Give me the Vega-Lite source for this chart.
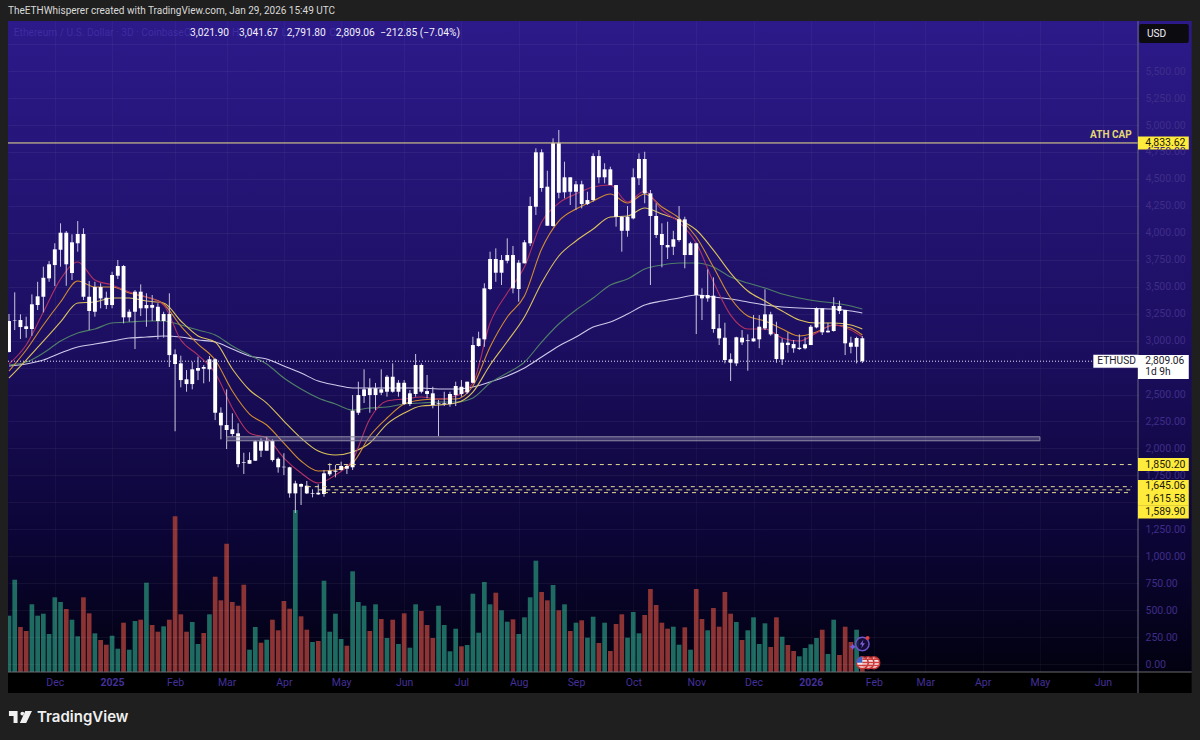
{
  "$schema": "https://vega.github.io/schema/vega-lite/v6.json",
  "autosize": "none",
  "width": 1130,
  "height": 651,
  "padding": {"left": 8, "top": 21, "right": 62, "bottom": 68},
  "background": "#1f1f1f",
  "title": {"text": "TheETHWhisperer created with TradingView.com, Jan 29, 2026 15:49 UTC", "anchor": "start", "frame": "group", "offset": 5, "font": "Roboto", "fontSize": 10, "fontWeight": "normal", "color": "#d9d9d9"},
  "config": {
    "font": "Roboto",
    "view": {"stroke": null, "fill": {"gradient": "linear", "x1": 0, "y1": 0, "x2": 0, "y2": 1, "stops": [{"offset": 0, "color": "#2c1a8a"}, {"offset": 0.5, "color": "#1c0e60"}, {"offset": 0.8, "color": "#0b0535"}, {"offset": 1, "color": "#020110"}]}}
  },
  "datasets": {
    "candles": [
      {"t":"2024-11-08","o":2894,"h":3247,"l":2890,"c":3182,"v":563},
      {"t":"2024-11-11","o":3187,"h":3448,"l":3098,"c":3191,"v":923},
      {"t":"2024-11-14","o":3191,"h":3244,"l":3015,"c":3126,"v":450},
      {"t":"2024-11-17","o":3133,"h":3222,"l":3027,"c":3108,"v":410},
      {"t":"2024-11-20","o":3108,"h":3429,"l":3045,"c":3337,"v":677},
      {"t":"2024-11-23","o":3330,"h":3546,"l":3284,"c":3411,"v":563},
      {"t":"2024-11-26","o":3407,"h":3686,"l":3262,"c":3583,"v":583},
      {"t":"2024-11-29","o":3578,"h":3738,"l":3546,"c":3708,"v":380},
      {"t":"2024-12-02","o":3701,"h":3903,"l":3506,"c":3847,"v":747},
      {"t":"2024-12-05","o":3843,"h":4088,"l":3686,"c":4001,"v":700},
      {"t":"2024-12-08","o":4001,"h":4017,"l":3509,"c":3708,"v":630},
      {"t":"2024-12-11","o":3627,"h":3986,"l":3562,"c":3912,"v":523},
      {"t":"2024-12-14","o":3903,"h":4109,"l":3825,"c":3989,"v":357},
      {"t":"2024-12-17","o":3989,"h":4042,"l":3377,"c":3407,"v":747},
      {"t":"2024-12-20","o":3407,"h":3553,"l":3098,"c":3275,"v":587},
      {"t":"2024-12-23","o":3268,"h":3546,"l":3222,"c":3497,"v":387},
      {"t":"2024-12-26","o":3497,"h":3532,"l":3300,"c":3392,"v":320},
      {"t":"2024-12-29","o":3398,"h":3454,"l":3293,"c":3330,"v":273},
      {"t":"2025-01-01","o":3330,"h":3639,"l":3300,"c":3609,"v":363},
      {"t":"2025-01-04","o":3602,"h":3748,"l":3571,"c":3692,"v":233},
      {"t":"2025-01-07","o":3692,"h":3701,"l":3160,"c":3216,"v":493},
      {"t":"2025-01-10","o":3216,"h":3290,"l":3175,"c":3268,"v":223},
      {"t":"2025-01-13","o":3268,"h":3469,"l":2922,"c":3454,"v":510},
      {"t":"2025-01-16","o":3454,"h":3522,"l":3228,"c":3300,"v":523},
      {"t":"2025-01-19","o":3300,"h":3439,"l":3129,"c":3330,"v":893},
      {"t":"2025-01-22","o":3330,"h":3423,"l":3182,"c":3305,"v":470},
      {"t":"2025-01-25","o":3314,"h":3346,"l":3012,"c":3182,"v":403},
      {"t":"2025-01-28","o":3182,"h":3268,"l":3027,"c":3247,"v":457},
      {"t":"2025-01-31","o":3247,"h":3439,"l":2755,"c":2866,"v":523},
      {"t":"2025-02-03","o":2873,"h":2919,"l":2159,"c":2783,"v":1557},
      {"t":"2025-02-06","o":2789,"h":2860,"l":2567,"c":2634,"v":577},
      {"t":"2025-02-09","o":2641,"h":2727,"l":2526,"c":2597,"v":403},
      {"t":"2025-02-12","o":2597,"h":2804,"l":2548,"c":2734,"v":500},
      {"t":"2025-02-15","o":2721,"h":2851,"l":2634,"c":2746,"v":280},
      {"t":"2025-02-18","o":2755,"h":2774,"l":2604,"c":2739,"v":390},
      {"t":"2025-02-21","o":2734,"h":2857,"l":2619,"c":2827,"v":577},
      {"t":"2025-02-24","o":2827,"h":2836,"l":2263,"c":2331,"v":953},
      {"t":"2025-02-27","o":2331,"h":2381,"l":2084,"c":2214,"v":717},
      {"t":"2025-03-02","o":2217,"h":2548,"l":1994,"c":2171,"v":1283},
      {"t":"2025-03-05","o":2177,"h":2326,"l":2109,"c":2134,"v":700},
      {"t":"2025-03-08","o":2140,"h":2233,"l":1825,"c":1855,"v":663},
      {"t":"2025-03-11","o":1871,"h":1960,"l":1763,"c":1865,"v":873},
      {"t":"2025-03-14","o":1858,"h":1964,"l":1858,"c":1892,"v":223},
      {"t":"2025-03-17","o":1886,"h":2078,"l":1883,"c":2066,"v":450},
      {"t":"2025-03-20","o":2066,"h":2094,"l":1920,"c":1979,"v":293},
      {"t":"2025-03-23","o":1979,"h":2109,"l":1979,"c":2071,"v":323},
      {"t":"2025-03-26","o":2071,"h":2084,"l":1877,"c":1892,"v":523},
      {"t":"2025-03-29","o":1904,"h":1917,"l":1775,"c":1825,"v":417},
      {"t":"2025-04-01","o":1830,"h":1955,"l":1753,"c":1825,"v":710},
      {"t":"2025-04-04","o":1825,"h":1830,"l":1543,"c":1583,"v":633},
      {"t":"2025-04-07","o":1583,"h":1700,"l":1401,"c":1676,"v":1620},
      {"t":"2025-04-10","o":1670,"h":1676,"l":1475,"c":1645,"v":557},
      {"t":"2025-04-13","o":1654,"h":1698,"l":1577,"c":1583,"v":423},
      {"t":"2025-04-16","o":1577,"h":1621,"l":1546,"c":1583,"v":300},
      {"t":"2025-04-19","o":1589,"h":1667,"l":1568,"c":1574,"v":310},
      {"t":"2025-04-22","o":1577,"h":1800,"l":1552,"c":1769,"v":913},
      {"t":"2025-04-25","o":1760,"h":1862,"l":1744,"c":1793,"v":403},
      {"t":"2025-04-28","o":1784,"h":1846,"l":1732,"c":1793,"v":583},
      {"t":"2025-05-01","o":1800,"h":1877,"l":1793,"c":1837,"v":330},
      {"t":"2025-05-04","o":1837,"h":1855,"l":1763,"c":1812,"v":263},
      {"t":"2025-05-07","o":1825,"h":2495,"l":1800,"c":2350,"v":1007},
      {"t":"2025-05-10","o":2331,"h":2619,"l":2310,"c":2495,"v":700},
      {"t":"2025-05-13","o":2486,"h":2734,"l":2421,"c":2548,"v":663},
      {"t":"2025-05-16","o":2558,"h":2650,"l":2331,"c":2495,"v":410},
      {"t":"2025-05-19","o":2495,"h":2607,"l":2356,"c":2558,"v":677},
      {"t":"2025-05-22","o":2548,"h":2734,"l":2495,"c":2517,"v":530},
      {"t":"2025-05-25","o":2526,"h":2681,"l":2480,"c":2665,"v":340},
      {"t":"2025-05-28","o":2665,"h":2789,"l":2517,"c":2526,"v":523},
      {"t":"2025-05-31","o":2526,"h":2634,"l":2480,"c":2609,"v":280},
      {"t":"2025-06-03","o":2609,"h":2634,"l":2403,"c":2412,"v":587},
      {"t":"2025-06-06","o":2412,"h":2542,"l":2393,"c":2511,"v":243},
      {"t":"2025-06-09","o":2505,"h":2876,"l":2480,"c":2774,"v":677},
      {"t":"2025-06-12","o":2774,"h":2789,"l":2511,"c":2526,"v":610},
      {"t":"2025-06-15","o":2532,"h":2681,"l":2465,"c":2505,"v":470},
      {"t":"2025-06-18","o":2511,"h":2572,"l":2372,"c":2403,"v":340},
      {"t":"2025-06-21","o":2412,"h":2449,"l":2115,"c":2418,"v":663},
      {"t":"2025-06-24","o":2412,"h":2526,"l":2393,"c":2418,"v":470},
      {"t":"2025-06-27","o":2412,"h":2526,"l":2387,"c":2505,"v":207},
      {"t":"2025-06-30","o":2495,"h":2619,"l":2393,"c":2579,"v":433},
      {"t":"2025-07-03","o":2572,"h":2634,"l":2480,"c":2505,"v":257},
      {"t":"2025-07-06","o":2520,"h":2619,"l":2505,"c":2619,"v":270},
      {"t":"2025-07-09","o":2609,"h":3036,"l":2604,"c":2959,"v":783},
      {"t":"2025-07-12","o":2950,"h":3083,"l":2943,"c":3021,"v":393},
      {"t":"2025-07-15","o":3012,"h":3532,"l":2943,"c":3485,"v":900},
      {"t":"2025-07-18","o":3479,"h":3825,"l":3469,"c":3757,"v":677},
      {"t":"2025-07-21","o":3757,"h":3856,"l":3546,"c":3630,"v":793},
      {"t":"2025-07-24","o":3630,"h":3794,"l":3516,"c":3748,"v":617},
      {"t":"2025-07-27","o":3741,"h":3949,"l":3717,"c":3794,"v":503},
      {"t":"2025-07-30","o":3794,"h":3878,"l":3439,"c":3485,"v":527},
      {"t":"2025-08-02","o":3479,"h":3748,"l":3361,"c":3723,"v":380},
      {"t":"2025-08-05","o":3717,"h":3933,"l":3717,"c":3912,"v":547},
      {"t":"2025-08-08","o":3903,"h":4335,"l":3878,"c":4249,"v":747},
      {"t":"2025-08-11","o":4242,"h":4784,"l":4165,"c":4747,"v":1113},
      {"t":"2025-08-14","o":4747,"h":4775,"l":4381,"c":4416,"v":800},
      {"t":"2025-08-17","o":4428,"h":4576,"l":4063,"c":4066,"v":717},
      {"t":"2025-08-20","o":4063,"h":4877,"l":4057,"c":4830,"v":870},
      {"t":"2025-08-23","o":4830,"h":4954,"l":4320,"c":4372,"v":617},
      {"t":"2025-08-26","o":4376,"h":4660,"l":4320,"c":4515,"v":677},
      {"t":"2025-08-29","o":4515,"h":4515,"l":4258,"c":4381,"v":410},
      {"t":"2025-09-01","o":4381,"h":4481,"l":4212,"c":4450,"v":493},
      {"t":"2025-09-04","o":4450,"h":4483,"l":4227,"c":4267,"v":517},
      {"t":"2025-09-07","o":4267,"h":4381,"l":4258,"c":4304,"v":343},
      {"t":"2025-09-10","o":4304,"h":4737,"l":4288,"c":4712,"v":553},
      {"t":"2025-09-13","o":4712,"h":4768,"l":4459,"c":4515,"v":290},
      {"t":"2025-09-16","o":4515,"h":4645,"l":4459,"c":4589,"v":493},
      {"t":"2025-09-19","o":4589,"h":4613,"l":4443,"c":4443,"v":210},
      {"t":"2025-09-22","o":4443,"h":4443,"l":4057,"c":4149,"v":480},
      {"t":"2025-09-25","o":4149,"h":4156,"l":3825,"c":4019,"v":577},
      {"t":"2025-09-28","o":4019,"h":4249,"l":3964,"c":4149,"v":343},
      {"t":"2025-10-01","o":4134,"h":4598,"l":4125,"c":4515,"v":600},
      {"t":"2025-10-04","o":4506,"h":4737,"l":4443,"c":4685,"v":387},
      {"t":"2025-10-07","o":4685,"h":4752,"l":4274,"c":4366,"v":570},
      {"t":"2025-10-10","o":4366,"h":4397,"l":3516,"c":4156,"v":830},
      {"t":"2025-10-13","o":4156,"h":4274,"l":3952,"c":3980,"v":670},
      {"t":"2025-10-16","o":3989,"h":4088,"l":3680,"c":3887,"v":493},
      {"t":"2025-10-19","o":3887,"h":4103,"l":3757,"c":3865,"v":433},
      {"t":"2025-10-22","o":3871,"h":4019,"l":3794,"c":3940,"v":453},
      {"t":"2025-10-25","o":3933,"h":4249,"l":3917,"c":4125,"v":273},
      {"t":"2025-10-28","o":4125,"h":4149,"l":3671,"c":3794,"v":447},
      {"t":"2025-10-31","o":3794,"h":3917,"l":3794,"c":3903,"v":223},
      {"t":"2025-11-03","o":3903,"h":3908,"l":3061,"c":3423,"v":830},
      {"t":"2025-11-06","o":3423,"h":3485,"l":3191,"c":3392,"v":530},
      {"t":"2025-11-09","o":3392,"h":3661,"l":3361,"c":3423,"v":417},
      {"t":"2025-11-12","o":3417,"h":3587,"l":3073,"c":3108,"v":640},
      {"t":"2025-11-15","o":3114,"h":3247,"l":2959,"c":3021,"v":453},
      {"t":"2025-11-18","o":3027,"h":3166,"l":2789,"c":2820,"v":800},
      {"t":"2025-11-21","o":2827,"h":2882,"l":2625,"c":2795,"v":583},
      {"t":"2025-11-24","o":2789,"h":3036,"l":2764,"c":3031,"v":500},
      {"t":"2025-11-27","o":3027,"h":3098,"l":2959,"c":2984,"v":320},
      {"t":"2025-11-30","o":2996,"h":3058,"l":2721,"c":3003,"v":417},
      {"t":"2025-12-03","o":2993,"h":3237,"l":2990,"c":3021,"v":547},
      {"t":"2025-12-06","o":3012,"h":3237,"l":2929,"c":3129,"v":280},
      {"t":"2025-12-09","o":3114,"h":3476,"l":3098,"c":3244,"v":487},
      {"t":"2025-12-12","o":3244,"h":3268,"l":3045,"c":3058,"v":250},
      {"t":"2025-12-15","o":3061,"h":3175,"l":2795,"c":2829,"v":547},
      {"t":"2025-12-18","o":2827,"h":3021,"l":2774,"c":2981,"v":353},
      {"t":"2025-12-21","o":2981,"h":3077,"l":2888,"c":2959,"v":270},
      {"t":"2025-12-24","o":2968,"h":3006,"l":2888,"c":2929,"v":210},
      {"t":"2025-12-27","o":2922,"h":3058,"l":2913,"c":2934,"v":157},
      {"t":"2025-12-30","o":2929,"h":3031,"l":2919,"c":2966,"v":240},
      {"t":"2026-01-02","o":2959,"h":3145,"l":2959,"c":3129,"v":277},
      {"t":"2026-01-05","o":3123,"h":3309,"l":3114,"c":3300,"v":340},
      {"t":"2026-01-08","o":3300,"h":3300,"l":3052,"c":3077,"v":423},
      {"t":"2026-01-11","o":3077,"h":3166,"l":3074,"c":3092,"v":180},
      {"t":"2026-01-14","o":3089,"h":3402,"l":3083,"c":3321,"v":523},
      {"t":"2026-01-17","o":3321,"h":3370,"l":3247,"c":3275,"v":170},
      {"t":"2026-01-20","o":3284,"h":3284,"l":2866,"c":2975,"v":453},
      {"t":"2026-01-23","o":2981,"h":3036,"l":2882,"c":2943,"v":300},
      {"t":"2026-01-26","o":2943,"h":3036,"l":2789,"c":3024,"v":423},
      {"t":"2026-01-29","o":3021.9,"h":3041.67,"l":2791.8,"c":2809.06,"v":90}
    ],
    "averages": [
      {"t":"2024-11-08","ma1":2783,"ma2":2718,"ma3":2653,"ma4":2774,"ma5":2764},
      {"t":"2024-11-17","ma1":2959,"ma2":2913,"ma3":2820,"ma4":2801,"ma5":2783},
      {"t":"2024-11-26","ma1":3265,"ma2":3145,"ma3":2996,"ma4":2885,"ma5":2820},
      {"t":"2024-12-05","ma1":3571,"ma2":3358,"ma3":3173,"ma4":2996,"ma5":2885},
      {"t":"2024-12-14","ma1":3729,"ma2":3553,"ma3":3349,"ma4":3071,"ma5":2941},
      {"t":"2024-12-23","ma1":3562,"ma2":3497,"ma3":3358,"ma4":3108,"ma5":2968},
      {"t":"2025-01-01","ma1":3516,"ma2":3497,"ma3":3395,"ma4":3163,"ma5":2996},
      {"t":"2025-01-10","ma1":3451,"ma2":3442,"ma3":3395,"ma4":3173,"ma5":3024},
      {"t":"2025-01-19","ma1":3404,"ma2":3404,"ma3":3367,"ma4":3182,"ma5":3033},
      {"t":"2025-01-28","ma1":3330,"ma2":3340,"ma3":3349,"ma4":3182,"ma5":3043},
      {"t":"2025-02-06","ma1":3006,"ma2":3135,"ma3":3182,"ma4":3145,"ma5":3033},
      {"t":"2025-02-15","ma1":2866,"ma2":2968,"ma3":3043,"ma4":3098,"ma5":3006},
      {"t":"2025-02-24","ma1":2699,"ma2":2820,"ma3":2987,"ma4":3052,"ma5":2987},
      {"t":"2025-03-05","ma1":2375,"ma2":2532,"ma3":2737,"ma4":2950,"ma5":2922},
      {"t":"2025-03-14","ma1":2143,"ma2":2319,"ma3":2542,"ma4":2866,"ma5":2857},
      {"t":"2025-03-23","ma1":2096,"ma2":2217,"ma3":2421,"ma4":2783,"ma5":2829},
      {"t":"2025-04-01","ma1":1911,"ma2":2050,"ma3":2254,"ma4":2653,"ma5":2764},
      {"t":"2025-04-10","ma1":1772,"ma2":1883,"ma3":2096,"ma4":2551,"ma5":2699},
      {"t":"2025-04-19","ma1":1679,"ma2":1790,"ma3":1976,"ma4":2468,"ma5":2625},
      {"t":"2025-04-28","ma1":1753,"ma2":1800,"ma3":1939,"ma4":2412,"ma5":2588},
      {"t":"2025-05-07","ma1":1892,"ma2":1865,"ma3":1967,"ma4":2356,"ma5":2560},
      {"t":"2025-05-16","ma1":2273,"ma2":2115,"ma3":2050,"ma4":2375,"ma5":2560},
      {"t":"2025-05-25","ma1":2440,"ma2":2282,"ma3":2226,"ma4":2384,"ma5":2560},
      {"t":"2025-06-03","ma1":2458,"ma2":2412,"ma3":2328,"ma4":2412,"ma5":2560},
      {"t":"2025-06-12","ma1":2477,"ma2":2449,"ma3":2393,"ma4":2421,"ma5":2560},
      {"t":"2025-06-21","ma1":2458,"ma2":2458,"ma3":2403,"ma4":2430,"ma5":2551},
      {"t":"2025-06-30","ma1":2486,"ma2":2458,"ma3":2421,"ma4":2430,"ma5":2551},
      {"t":"2025-07-09","ma1":2607,"ma2":2579,"ma3":2523,"ma4":2468,"ma5":2570},
      {"t":"2025-07-18","ma1":3163,"ma2":2941,"ma3":2774,"ma4":2607,"ma5":2616},
      {"t":"2025-07-27","ma1":3442,"ma2":3219,"ma3":2992,"ma4":2699,"ma5":2672},
      {"t":"2025-08-05","ma1":3683,"ma2":3414,"ma3":3219,"ma4":2801,"ma5":2746},
      {"t":"2025-08-14","ma1":4100,"ma2":3850,"ma3":3534,"ma4":2987,"ma5":2848},
      {"t":"2025-08-23","ma1":4276,"ma2":4109,"ma3":3785,"ma4":3154,"ma5":2950},
      {"t":"2025-09-01","ma1":4360,"ma2":4221,"ma3":3924,"ma4":3284,"ma5":3033},
      {"t":"2025-09-10","ma1":4425,"ma2":4295,"ma3":4035,"ma4":3395,"ma5":3126},
      {"t":"2025-09-19","ma1":4443,"ma2":4360,"ma3":4147,"ma4":3516,"ma5":3173},
      {"t":"2025-09-28","ma1":4286,"ma2":4276,"ma3":4156,"ma4":3571,"ma5":3247},
      {"t":"2025-10-07","ma1":4388,"ma2":4360,"ma3":4230,"ma4":3664,"ma5":3330},
      {"t":"2025-10-16","ma1":4212,"ma2":4239,"ma3":4174,"ma4":3701,"ma5":3367},
      {"t":"2025-10-25","ma1":4100,"ma2":4137,"ma3":4119,"ma4":3720,"ma5":3395},
      {"t":"2025-11-03","ma1":3905,"ma2":3961,"ma3":4026,"ma4":3720,"ma5":3423},
      {"t":"2025-11-12","ma1":3544,"ma2":3683,"ma3":3840,"ma4":3683,"ma5":3404},
      {"t":"2025-11-21","ma1":3237,"ma2":3395,"ma3":3627,"ma4":3590,"ma5":3386},
      {"t":"2025-11-30","ma1":3108,"ma2":3228,"ma3":3460,"ma4":3534,"ma5":3358},
      {"t":"2025-12-09","ma1":3108,"ma2":3182,"ma3":3367,"ma4":3488,"ma5":3330},
      {"t":"2025-12-18","ma1":3024,"ma2":3108,"ma3":3275,"ma4":3432,"ma5":3312},
      {"t":"2025-12-27","ma1":2996,"ma2":3043,"ma3":3191,"ma4":3395,"ma5":3302},
      {"t":"2026-01-05","ma1":3071,"ma2":3080,"ma3":3163,"ma4":3367,"ma5":3297},
      {"t":"2026-01-14","ma1":3145,"ma2":3145,"ma3":3163,"ma4":3349,"ma5":3293},
      {"t":"2026-01-23","ma1":3098,"ma2":3117,"ma3":3145,"ma4":3321,"ma5":3275},
      {"t":"2026-01-29","ma1":3033,"ma2":3052,"ma3":3108,"ma4":3293,"ma5":3256}
    ],
    "panes": [
      {"pane":"price scale","from":"2026-06-22T09:36:00Z","to":"2026-07-20T12:00:00Z","low":-74,"high":5965},
      {"pane":"time scale","from":"2024-11-07T11:30:00Z","to":"2026-07-20T12:00:00Z","low":-269,"high":-74}
    ],
    "levels": [
      {"name":"ATH CAP","price":4833.62,"start":"2024-11-07T11:30:00Z","end":"2026-06-22T09:36:00Z","style":"solid"},
      {"name":"current","price":2809.06,"start":"2024-11-07T11:30:00Z","end":"2026-05-30T00:00:00Z","style":"dotted"},
      {"name":"support 1","price":1850.2,"start":"2025-04-24T00:00:00Z","end":"2026-06-19T00:00:00Z","style":"dashed"},
      {"name":"support 2","price":1645.06,"start":"2025-04-13T00:00:00Z","end":"2026-06-19T00:00:00Z","style":"dashed"},
      {"name":"support 3","price":1615.58,"start":"2025-04-19T00:00:00Z","end":"2026-06-19T00:00:00Z","style":"dashed"},
      {"name":"support 4","price":1589.9,"start":"2025-04-22T00:00:00Z","end":"2026-06-19T00:00:00Z","style":"dashed"}
    ],
    "zones": [
      {"start":"2025-03-02","end":"2026-05-02","low":2071,"high":2108}
    ],
    "tags": [
      {"price":"4,833.62","at":4833.62},
      {"price":"1,850.20","at":1850.2},
      {"price":"1,645.06","at":1647},
      {"price":"1,615.58","at":1529},
      {"price":"1,589.90","at":1410}
    ],
    "notes": [
      {"kind":"faint","t":"2024-11-10T12:00:00Z","p":5853,"text":"Ethereum / U.S. Dollar · 3D · Coinbase"},
      {"kind":"faint","t":"2025-02-07T16:00:00Z","p":5853,"text":"O"},
      {"kind":"faint","t":"2025-03-04T19:00:00Z","p":5853,"text":"H"},
      {"kind":"faint","t":"2025-03-30T19:00:00Z","p":5853,"text":"L"},
      {"kind":"faint","t":"2025-04-24T17:00:00Z","p":5853,"text":"C"},
      {"kind":"ohlc","t":"2025-02-10T19:00:00Z","p":5853,"text":"3,021.90"},
      {"kind":"ohlc","t":"2025-03-08T12:00:00Z","p":5853,"text":"3,041.67"},
      {"kind":"ohlc","t":"2025-04-02T12:00:00Z","p":5853,"text":"2,791.80"},
      {"kind":"ohlc","t":"2025-04-28T04:00:00Z","p":5853,"text":"2,809.06"},
      {"kind":"ohlc","t":"2025-05-21T10:00:00Z","p":5853,"text":"−212.85 (−7.04%)"},
      {"kind":"ohlc","t":"2026-06-27T02:00:00Z","p":5849,"text":"USD"},
      {"kind":"dark","t":"2026-06-01T02:00:00Z","p":2809,"text":"ETHUSD"},
      {"kind":"dark","t":"2026-06-26T05:00:00Z","p":2809,"text":"2,809.06"},
      {"kind":"dark","t":"2026-06-26T05:00:00Z","p":2710,"text":"1d 9h"}
    ],
    "marker": [
      {"kind":"earnings","t":"2026-01-29","p":186},
      {"kind":"alert","t":"2026-01-31T18:00:00Z","p":241},
      {"kind":"spark","t":"2026-01-24","p":160}
    ],
    "flags": [
      {"t":"2026-02-04","p":12},
      {"t":"2026-02-01","p":12},
      {"t":"2026-01-29","p":12}
    ],
    "brand": [
      {"t":"2024-11-14","p":-492}
    ],
    "brandname": [
      {"t":"2024-11-22T16:00:00Z","p":-492,"text":"TradingView"}
    ]
  },
  "resolve": {"scale": {"y": "independent"}},
  "layer": [
    {
      "layer": [
        {
          "data": {"name": "candles"},
          "mark": {"type": "bar", "size": 4.7, "clip": true},
          "encoding": {
            "x": {
              "field": "t",
              "type": "temporal",
              "title": null,
              "scale": {"type": "utc", "domain": ["2024-11-07T11:30:00Z", "2026-06-22T09:36:00Z"], "nice": false, "padding": 0},
              "axis": {
                "values": ["2024-12-02T00:00:00Z", "2025-01-01T00:00:00Z", "2025-02-03T00:00:00Z", "2025-03-02T00:00:00Z", "2025-04-01T00:00:00Z", "2025-05-01T00:00:00Z", "2025-06-03T00:00:00Z", "2025-07-03T00:00:00Z", "2025-08-02T00:00:00Z", "2025-09-01T00:00:00Z", "2025-10-01T00:00:00Z", "2025-11-03T00:00:00Z", "2025-12-03T00:00:00Z", "2026-01-02T00:00:00Z", "2026-02-04T00:00:00Z", "2026-03-03T00:00:00Z", "2026-04-02T00:00:00Z", "2026-05-02T00:00:00Z", "2026-06-04T00:00:00Z"],
                "labelExpr": "utcmonth(datum.value)==0 ? utcFormat(datum.value,'%Y') : utcFormat(datum.value,'%b')",
                "labelFontWeight": {"condition": {"test": "utcmonth(datum.value)==0", "value": "bold"}, "value": "normal"},
                "labelColor": "#43309a",
                "labelFontSize": 10.5,
                "labelPadding": 5,
                "labelOverlap": false,
                "labelFlush": false,
                "ticks": false,
                "domain": false,
                "grid": true,
                "gridColor": "#ffffff",
                "gridOpacity": 0.035,
                "zindex": 1
              }
            },
            "y": {"field": "v", "type": "quantitative", "axis": null, "scale": {"domain": [0, 6510], "nice": false, "zero": false, "padding": 0}},
            "color": {"condition": {"test": "datum.c>=datum.o", "value": "#1e6b62"}, "value": "#8c3333"}
          }
        }
      ]
    },
    {
      "resolve": {"scale": {"color": "independent"}},
      "layer": [
        {
          "data": {"name": "panes"},
          "transform": [{"filter": "datum.pane=='price scale'"}],
          "mark": {"type": "rect", "color": {"gradient": "linear", "x1": 0, "y1": 0, "x2": 0, "y2": 1, "stops": [{"offset": 0, "color": "#2c1a8a"}, {"offset": 0.5, "color": "#1c0e60"}, {"offset": 0.8, "color": "#0b0535"}, {"offset": 1, "color": "#020110"}]}},
          "encoding": {
            "x": {"field": "from", "type": "temporal"},
            "x2": {"field": "to"},
            "y": {
              "field": "high",
              "type": "quantitative",
              "title": null,
              "scale": {"domain": [-74, 5965], "nice": false, "zero": false, "padding": 0},
              "axis": {
                "orient": "right",
                "values": [0, 250, 500, 750, 1000, 1250, 1500, 1750, 2000, 2250, 2500, 2750, 3000, 3250, 3500, 3750, 4000, 4250, 4500, 4750, 5000, 5250, 5500, 5750],
                "tickCount": 30,
                "format": ",.2f",
                "labelExpr": "indexof([1500,2750,5750],datum.value)>=0 ? '' : datum.label",
                "labelColor": "#3f2d88",
                "labelFontSize": 10.5,
                "labelPadding": 7,
                "labelAlign": "left",
                "labelOverlap": false,
                "labelFlush": false,
                "ticks": false,
                "domain": false,
                "grid": true,
                "gridColor": "#ffffff",
                "gridOpacity": 0.05,
                "zindex": 1
              }
            },
            "y2": {"field": "low"}
          }
        },
        {
          "data": {"name": "averages"},
          "transform": [{"fold": ["ma5", "ma4", "ma3", "ma2", "ma1"], "as": ["series", "price"]}],
          "mark": {"type": "line", "interpolate": "monotone", "clip": true},
          "encoding": {
            "x": {"field": "t", "type": "temporal"},
            "y": {"field": "price", "type": "quantitative"},
            "color": {"field": "series", "type": "nominal", "legend": null, "scale": {"domain": ["ma1", "ma2", "ma3", "ma4", "ma5"], "range": ["#b03263", "#d18b30", "#dbc25c", "#4f7f68", "#cfc9ea"]}},
            "strokeWidth": {"field": "series", "type": "nominal", "legend": null, "scale": {"domain": ["ma1", "ma2", "ma3", "ma4", "ma5"], "range": [1.1, 1.1, 1.1, 1.1, 1.5]}}
          }
        },
        {
          "data": {"name": "candles"},
          "mark": {"type": "rule", "color": "#c9c6de", "strokeWidth": 1, "clip": true},
          "encoding": {
            "x": {"field": "t", "type": "temporal"},
            "y": {"field": "h", "type": "quantitative"},
            "y2": {"field": "l"}
          }
        },
        {
          "data": {"name": "candles"},
          "mark": {"type": "bar", "size": 3.9, "color": "#ffffff", "clip": true},
          "encoding": {
            "x": {"field": "t", "type": "temporal"},
            "y": {"field": "o", "type": "quantitative"},
            "y2": {"field": "c"}
          }
        },
        {
          "data": {"name": "zones"},
          "mark": {"type": "rect", "color": "#a9a5bf", "fillOpacity": 0.3, "stroke": "#8f8ca6", "strokeWidth": 1},
          "encoding": {
            "x": {"field": "start", "type": "temporal"},
            "x2": {"field": "end"},
            "y": {"field": "high", "type": "quantitative"},
            "y2": {"field": "low"}
          }
        },
        {
          "data": {"name": "levels"},
          "transform": [{"filter": "datum.style=='solid'"}],
          "mark": {"type": "rule", "color": "#efe08c", "strokeWidth": 1},
          "encoding": {
            "x": {"field": "start", "type": "temporal"},
            "x2": {"field": "end"},
            "y": {"field": "price", "type": "quantitative"}
          }
        },
        {
          "data": {"name": "levels"},
          "transform": [{"filter": "datum.style=='dashed'"}],
          "mark": {"type": "rule", "color": "#e6dc92", "strokeWidth": 1, "strokeDash": [4, 4]},
          "encoding": {
            "x": {"field": "start", "type": "temporal"},
            "x2": {"field": "end"},
            "y": {"field": "price", "type": "quantitative"}
          }
        },
        {
          "data": {"name": "levels"},
          "transform": [{"filter": "datum.style=='dotted'"}],
          "mark": {"type": "rule", "color": "#e4e2f0", "strokeWidth": 1, "strokeDash": [1, 2]},
          "encoding": {
            "x": {"field": "start", "type": "temporal"},
            "x2": {"field": "end"},
            "y": {"field": "price", "type": "quantitative"}
          }
        },
        {
          "data": {"name": "panes"},
          "transform": [{"filter": "datum.pane=='time scale'"}],
          "mark": {"type": "rect", "color": "#000000"},
          "encoding": {
            "x": {"field": "from", "type": "temporal"},
            "x2": {"field": "to"},
            "y": {"field": "high", "type": "quantitative"},
            "y2": {"field": "low"}
          }
        },
        {
          "data": {"name": "panes"},
          "transform": [{"filter": "datum.pane=='time scale'"}],
          "mark": {"type": "rule", "color": "#6a6a70", "strokeWidth": 1},
          "encoding": {
            "x": {"field": "from", "type": "temporal"},
            "x2": {"field": "to"},
            "y": {"field": "high", "type": "quantitative"}
          }
        },
        {
          "data": {"name": "panes"},
          "transform": [{"filter": "datum.pane=='price scale'"}],
          "mark": {"type": "rule", "color": "#6a6a80", "strokeWidth": 1},
          "encoding": {
            "x": {"field": "from", "type": "temporal"},
            "y": {"datum": 5965, "type": "quantitative"},
            "y2": {"datum": -269}
          }
        },
        {
          "data": {"name": "tags"},
          "mark": {"type": "bar", "size": 13, "color": "#ffeb3b"},
          "encoding": {
            "x": {"datum": {"year": 2026, "month": 6, "date": 22, "hours": 9, "minutes": 36, "utc": true}, "type": "temporal"},
            "x2": {"datum": {"year": 2026, "month": 7, "date": 19, "utc": true}},
            "y": {"field": "at", "type": "quantitative"}
          }
        },
        {
          "data": {"values": [{"p": 2755}]},
          "mark": {"type": "bar", "size": 24, "color": "#ffffff"},
          "encoding": {
            "x": {"datum": {"year": 2026, "month": 6, "date": 22, "hours": 9, "minutes": 36, "utc": true}, "type": "temporal"},
            "x2": {"datum": {"year": 2026, "month": 7, "date": 19, "utc": true}},
            "y": {"field": "p", "type": "quantitative"}
          }
        },
        {
          "data": {"values": [{"p": 2809}]},
          "mark": {"type": "bar", "size": 13, "color": "#ffffff"},
          "encoding": {
            "x": {"datum": {"year": 2026, "month": 5, "date": 30, "utc": true}, "type": "temporal"},
            "x2": {"datum": {"year": 2026, "month": 6, "date": 22, "hours": 9, "minutes": 36, "utc": true}},
            "y": {"field": "p", "type": "quantitative"}
          }
        },
        {
          "data": {"values": [{"p": 5849}]},
          "mark": {"type": "bar", "size": 19, "color": "#0c0c10", "cornerRadius": 2},
          "encoding": {
            "x": {"datum": {"year": 2026, "month": 6, "date": 23, "utc": true}, "type": "temporal"},
            "x2": {"datum": {"year": 2026, "month": 7, "date": 19, "utc": true}},
            "y": {"field": "p", "type": "quantitative"}
          }
        },
        {
          "data": {"name": "tags"},
          "mark": {"type": "text", "align": "left", "baseline": "middle", "fontSize": 10.5, "color": "#1a1a10"},
          "encoding": {
            "x": {"datum": {"year": 2026, "month": 6, "date": 26, "hours": 5, "utc": true}, "type": "temporal"},
            "y": {"field": "at", "type": "quantitative"},
            "text": {"field": "price"}
          }
        },
        {
          "data": {"values": [{"p": 4905, "text": "ATH CAP"}]},
          "mark": {"type": "text", "align": "right", "baseline": "middle", "fontSize": 10, "fontWeight": "bold", "color": "#e4d672"},
          "encoding": {
            "x": {"datum": {"year": 2026, "month": 6, "date": 19, "hours": 2, "utc": true}, "type": "temporal"},
            "y": {"field": "p", "type": "quantitative"},
            "text": {"field": "text"}
          }
        },
        {
          "data": {"name": "notes"},
          "mark": {"type": "text", "align": "left", "baseline": "middle", "fontSize": 10.2},
          "encoding": {
            "x": {"field": "t", "type": "temporal"},
            "y": {"field": "p", "type": "quantitative"},
            "text": {"field": "text"},
            "color": {"field": "kind", "type": "nominal", "legend": null, "scale": {"domain": ["faint", "ohlc", "dark"], "range": ["#3f2ca0", "#f2f0fa", "#20202a"]}}
          }
        },
        {
          "data": {"name": "flags"},
          "mark": {"type": "circle", "size": 141, "fill": "#f5e4e4", "stroke": "#b92f2f", "strokeWidth": 1.5, "opacity": 1},
          "encoding": {
            "x": {"field": "t", "type": "temporal"},
            "y": {"field": "p", "type": "quantitative"}
          }
        },
        {
          "data": {"name": "flags"},
          "mark": {"type": "point", "size": 150, "filled": true, "color": "#d23c3c", "opacity": 1, "shape": "M0 -0.72H0.72V-0.46H0ZM0 -0.18H0.98V0.1H0ZM-0.95 0.34H0.93V0.58H-0.84ZM-0.55 0.8H0.55L0.3 0.96H-0.3Z"},
          "encoding": {
            "x": {"field": "t", "type": "temporal"},
            "y": {"field": "p", "type": "quantitative"}
          }
        },
        {
          "data": {"values": [{"t": "2026-01-29", "p": 12}]},
          "mark": {"type": "point", "size": 150, "filled": true, "color": "#3d62c8", "opacity": 1, "shape": "M-1 0A1 1 0 0 1 0 -1V0Z"},
          "encoding": {
            "x": {"field": "t", "type": "temporal"},
            "y": {"field": "p", "type": "quantitative"}
          }
        },
        {
          "data": {"name": "marker"},
          "transform": [{"filter": "datum.kind=='earnings'"}],
          "mark": {"type": "circle", "size": 180, "fill": "#1a1040", "fillOpacity": 0.8, "stroke": "#6d52c9", "strokeWidth": 1.5, "opacity": 1},
          "encoding": {
            "x": {"field": "t", "type": "temporal"},
            "y": {"field": "p", "type": "quantitative"}
          }
        },
        {
          "data": {"name": "marker"},
          "transform": [{"filter": "datum.kind=='earnings'"}],
          "mark": {"type": "point", "size": 70, "filled": true, "color": "#7d62dc", "opacity": 1, "shape": "M0.25 -1L-0.6 0.15H-0.05L-0.25 1L0.6 -0.15H0.05Z"},
          "encoding": {
            "x": {"field": "t", "type": "temporal"},
            "y": {"field": "p", "type": "quantitative"}
          }
        },
        {
          "data": {"name": "marker"},
          "transform": [{"filter": "datum.kind=='alert'"}],
          "mark": {"type": "circle", "size": 16, "color": "#e03a3a", "opacity": 1},
          "encoding": {
            "x": {"field": "t", "type": "temporal"},
            "y": {"field": "p", "type": "quantitative"}
          }
        },
        {
          "data": {"name": "marker"},
          "transform": [{"filter": "datum.kind=='spark'"}],
          "mark": {"type": "point", "shape": "M0 -1Q0.1 -0.1 1 0Q0.1 0.1 0 1Q-0.1 0.1 -1 0Q-0.1 -0.1 0 -1Z", "size": 60, "filled": true, "color": "#7a5be0", "opacity": 1},
          "encoding": {
            "x": {"field": "t", "type": "temporal"},
            "y": {"field": "p", "type": "quantitative"}
          }
        },
        {
          "data": {"name": "brand"},
          "mark": {"type": "point", "size": 530, "filled": true, "color": "#f0f0f0", "opacity": 1, "shape": "M-1 -0.52H-0.25V0.52H-0.6V-0.1H-1ZM0 -0.3A0.17 0.17 0 1 0 0.34 -0.3A0.17 0.17 0 1 0 0 -0.3ZM0.42 -0.52H1L0.5 0.52H-0.05Z"},
          "encoding": {
            "x": {"field": "t", "type": "temporal"},
            "y": {"field": "p", "type": "quantitative"}
          }
        },
        {
          "data": {"name": "brandname"},
          "mark": {"type": "text", "align": "left", "baseline": "middle", "font": "Inter", "fontSize": 15, "fontWeight": 600, "color": "#f0f0f0"},
          "encoding": {
            "x": {"field": "t", "type": "temporal"},
            "y": {"field": "p", "type": "quantitative"},
            "text": {"field": "text"}
          }
        }
      ]
    }
  ]
}
